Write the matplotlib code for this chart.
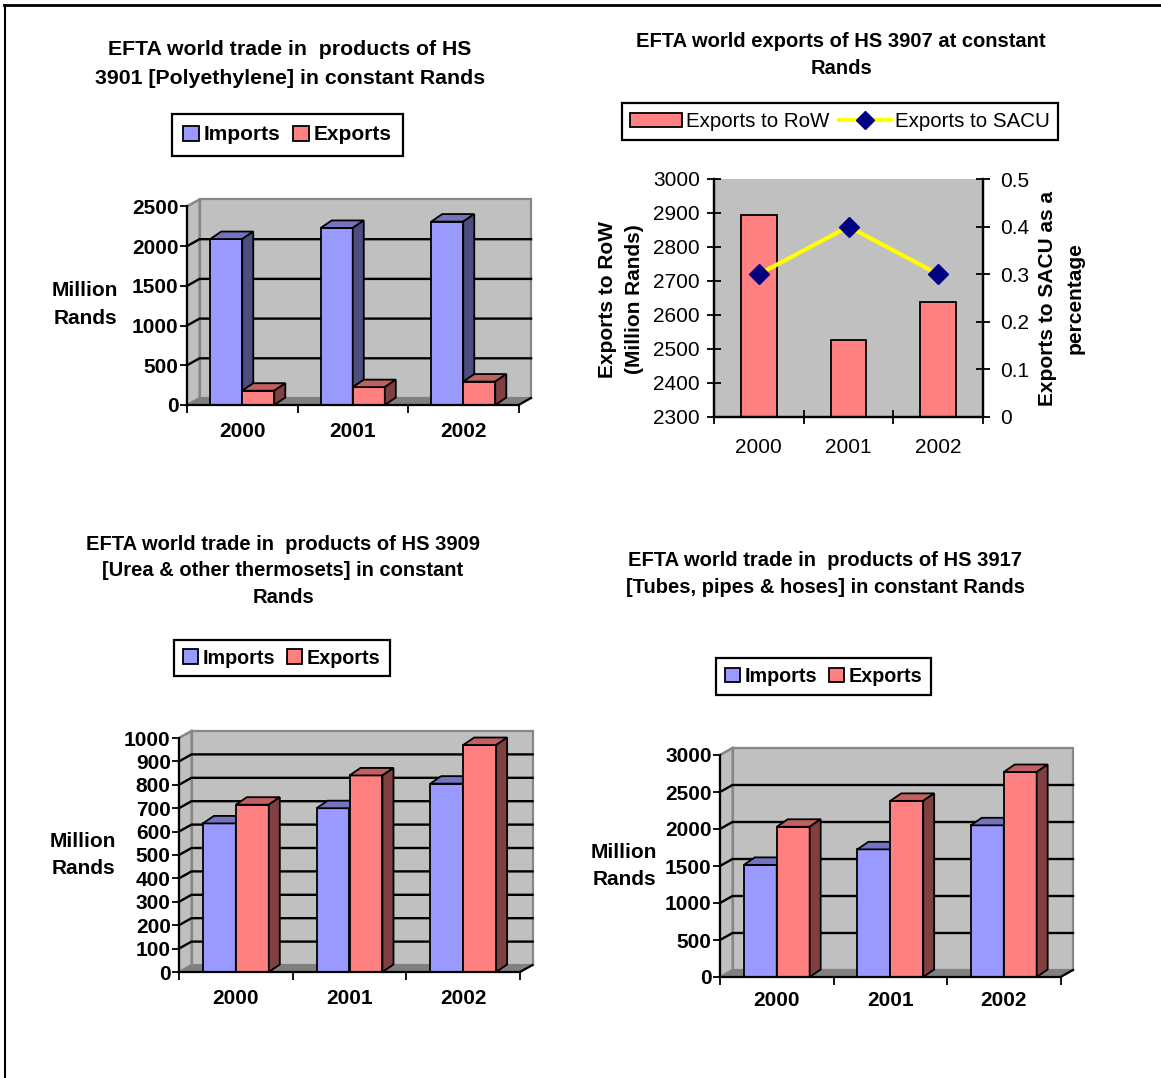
import numpy as np
import matplotlib.pyplot as plt
from matplotlib.patches import Polygon, Rectangle, Patch
from matplotlib.lines import Line2D

W, H = 1161, 1078
years = ['2000', '2001', '2002']

# HS 3901 polyethylene (million rands)
pe_imports = [2090, 2230, 2310]
pe_exports = [180, 225, 295]

# HS 3907 exports
row_exports = [2895, 2525, 2637]
sacu_share = [0.3, 0.4, 0.3]

# HS 3909 urea & other thermosets
urea_imports = [635, 700, 805]
urea_exports = [715, 840, 970]

# HS 3917 tubes, pipes & hoses
tube_imports = [1515, 1725, 2050]
tube_exports = [2030, 2380, 2770]

plt.rcParams['font.family'] = ['Liberation Sans', 'DejaVu Sans']
FS = 15
TFS = 14.5

IMP = ('#9999ff', '#7373c0', '#4d4d80')   # front, top, side
EXP = ('#ff8080', '#c06060', '#804040')
WALL = '#c0c0c0'
WALL_EDGE = '#878787'
FLOOR = '#808080'

fig = plt.figure(figsize=(W / 100, H / 100), dpi=100)


def px_axes(x0, y0, x1, y1):
    return fig.add_axes([x0 / W, 1 - y1 / H, (x1 - x0) / W, (y1 - y0) / H])


def add(ax, artist):
    artist.set_clip_on(False)
    ax.add_artist(artist) if isinstance(artist, Line2D) else ax.add_patch(artist)


def fig_legend(handles, labels, cx, cy, size=FS, bold=True, **kw):
    leg = fig.legend(handles, labels, loc='center', bbox_to_anchor=(cx / W, 1 - cy / H),
                     ncol=len(handles), frameon=True, fancybox=False, framealpha=1,
                     edgecolor='black', borderaxespad=0,
                     prop={'size': size, 'weight': 'bold' if bold else 'normal'}, **kw)
    leg.get_frame().set_linewidth(1.6)
    return leg


def bar3d_chart(box, ymax, step, imports, exports, title, title_xy, title_fs, title_ls,
                leg_xy, leg_fs, leg_pad, ylab_xy, ylab_ls, xpad=12):
    x0p, y0p, x1p, y1p = box
    ax = px_axes(*box)
    xmin, xmax = -0.5, 2.5
    ax.set_xlim(xmin, xmax)
    ax.set_ylim(0, ymax)
    ax.set_facecolor('none')
    sx = (xmax - xmin) / (x1p - x0p)
    sy = ymax / (y1p - y0p)
    wx, wy = 12.5 * sx, 7 * sy      # wall depth
    bx, by = 11 * sx, 7.5 * sy      # bar depth

    # back wall, side wall, floor
    add(ax, Rectangle((xmin + wx, wy), xmax - xmin, ymax, facecolor=WALL,
                      edgecolor=WALL_EDGE, lw=1.6, zorder=0))
    add(ax, Polygon([(xmin, 0), (xmin + wx, wy), (xmin + wx, ymax + wy), (xmin, ymax)],
                    facecolor=WALL, edgecolor=WALL_EDGE, lw=1.6, zorder=0))
    add(ax, Polygon([(xmin, 0), (xmax, 0), (xmax + wx, wy), (xmin + wx, wy)],
                    facecolor=FLOOR, edgecolor=FLOOR, lw=1, zorder=0.5))
    add(ax, Line2D([xmax, xmax + wx], [0, wy], color='black', lw=1.6, zorder=3))

    ticks = np.arange(0, ymax + 1, step)
    for v in ticks[1:-1]:
        add(ax, Line2D([xmin, xmin + wx, xmax + wx], [v, v + wy, v + wy],
                       color='black', lw=1.7, zorder=1))

    w = 0.29
    for i in range(len(years)):
        for left, val, cols in ((i - w, imports[i], IMP), (i, exports[i], EXP)):
            front, top, side = cols
            add(ax, Rectangle((left, 0), w, val, facecolor=front, edgecolor='black',
                              lw=1.3, zorder=2))
            add(ax, Polygon([(left, val), (left + w, val), (left + w + bx, val + by),
                             (left + bx, val + by)], facecolor=top, edgecolor='black',
                            lw=1.3, zorder=2))
            add(ax, Polygon([(left + w, 0), (left + w + bx, by), (left + w + bx, val + by),
                             (left + w, val)], facecolor=side, edgecolor='black',
                            lw=1.3, zorder=2))

    ax.add_line(Line2D([xmin, xmin + wx], [ymax, ymax + wy], color=WALL_EDGE, lw=1.6,
                       clip_on=False))

    for s in ('top', 'right'):
        ax.spines[s].set_visible(False)
    for s in ('left', 'bottom'):
        ax.spines[s].set_linewidth(1.6)
        ax.spines[s].set_zorder(3)
    ax.set_yticks(ticks)
    ax.set_yticklabels([f'{t:d}' for t in ticks], fontsize=FS, fontweight='bold')
    ax.tick_params(axis='y', direction='out', length=5, width=1.3, pad=1)
    ax.set_xticks([-0.5, 0.5, 1.5, 2.5])
    ax.set_xticklabels([])
    ax.tick_params(axis='x', which='major', direction='out', length=6, width=1.3)
    ax.set_xticks([0, 1, 2], minor=True)
    ax.set_xticklabels(years, minor=True, fontsize=FS, fontweight='bold')
    ax.tick_params(axis='x', which='minor', length=0, pad=xpad)

    fig.text(title_xy[0] / W, 1 - title_xy[1] / H, title, ha='center', va='center',
             fontsize=title_fs, fontweight='bold', linespacing=title_ls)
    fig.text(ylab_xy[0] / W, 1 - ylab_xy[1] / H, 'Million\nRands', ha='center',
             va='center', fontsize=FS, fontweight='bold', linespacing=ylab_ls)
    handles = [Patch(facecolor=IMP[0], edgecolor='black', lw=1.3),
               Patch(facecolor=EXP[0], edgecolor='black', lw=1.3)]
    fig_legend(handles, ['Imports', 'Exports'], *leg_xy, size=leg_fs, borderpad=leg_pad,
               handlelength=0.75, handleheight=0.75, handletextpad=0.25,
               columnspacing=0.6)
    return ax


bar3d_chart((187, 206.5, 518.5, 405), 2500, 500, pe_imports, pe_exports,
            'EFTA world trade in  products of HS\n3901 [Polyethylene] in constant Rands',
            (290, 64), 15.3, 1.65, (287.5, 135), 15, 0.55, (85, 305), 1.6)

bar3d_chart((179, 738, 520, 972), 1000, 100, urea_imports, urea_exports,
            'EFTA world trade in  products of HS 3909\n[Urea & other thermosets] in constant\nRands',
            (283, 571), TFS, 1.5, (282, 658), 14.2, 0.45, (83, 855), 1.5)

bar3d_chart((720, 755, 1060.5, 977), 3000, 500, tube_imports, tube_exports,
            'EFTA world trade in  products of HS 3917\n[Tubes, pipes & hoses] in constant Rands',
            (825, 574), TFS, 1.5, (823.5, 676.5), 14.2, 0.45, (624, 866), 1.5, xpad=10)

# HS 3907: bars on the left scale, SACU share on the right scale
ax2 = px_axes(714, 179, 983, 417)
ax2.set_facecolor(WALL)
x = np.arange(len(years))
ax2.bar(x, row_exports, width=0.4, color=EXP[0], edgecolor='black', lw=1.3)
ax2.set_xlim(-0.5, 2.5)
ax2.set_ylim(2300, 3000)
ax2.set_yticks(np.arange(2300, 3001, 100))
ax2.tick_params(axis='y', direction='inout', length=10, width=1.3, labelsize=FS, pad=5)
ax2.set_xticks([-0.5, 0.5, 1.5, 2.5])
ax2.set_xticklabels([])
ax2.tick_params(axis='x', which='major', direction='inout', length=10, width=1.3)
ax2.set_xticks(x, minor=True)
ax2.set_xticklabels(years, minor=True, fontsize=FS)
ax2.tick_params(axis='x', which='minor', length=0, pad=15)
ax2.spines['top'].set_visible(False)
for s in ('left', 'bottom', 'right'):
    ax2.spines[s].set_linewidth(1.6)

ax2r = ax2.twinx()
ax2r.plot(x, sacu_share, color='#ffff00', lw=3, marker='D', ms=10,
          markerfacecolor='#000080', markeredgecolor='#000080', zorder=3)
ax2r.set_ylim(0, 0.5)
ax2r.set_yticks(np.arange(0, 0.51, 0.1))
ax2r.set_yticklabels(['0', '0.1', '0.2', '0.3', '0.4', '0.5'])
ax2r.tick_params(axis='y', direction='inout', length=10, width=1.3, labelsize=FS, pad=7)
ax2r.spines['top'].set_visible(False)
for s in ('left', 'bottom', 'right'):
    ax2r.spines[s].set_linewidth(1.6)

fig.text(841 / W, 1 - 55 / H, 'EFTA world exports of HS 3907 at constant\nRands',
         ha='center', va='center', fontsize=TFS, fontweight='bold', linespacing=1.5)
fig.text(621 / W, 1 - 299 / H, 'Exports to RoW\n(Million Rands)', rotation=90,
         ha='center', va='center', fontsize=FS, fontweight='bold', linespacing=1.5)
fig.text(1061 / W, 1 - 298 / H, 'Exports to SACU as a\npercentage', rotation=90,
         ha='center', va='center', fontsize=FS, fontweight='bold', linespacing=1.55)
fig_legend([Patch(facecolor=EXP[0], edgecolor='black', lw=1.3),
            Line2D([], [], color='#ffff00', lw=3, marker='D', ms=9,
                   markerfacecolor='#000080', markeredgecolor='#000080')],
           ['Exports to RoW', 'Exports to SACU'], 840, 121.5, size=14.8, bold=False,
           borderpad=0.42, handlelength=2.5, handleheight=0.7, handletextpad=0.2,
           columnspacing=0.5)

# page frame
fig.add_artist(Line2D([4 / W, 1], [1 - 5 / H, 1 - 5 / H], transform=fig.transFigure,
                      color='black', lw=2))
fig.add_artist(Line2D([4.5 / W, 4.5 / W], [0, 1 - 5 / H], transform=fig.transFigure,
                      color='black', lw=1.5))

fig.savefig('out.png', dpi=100)
